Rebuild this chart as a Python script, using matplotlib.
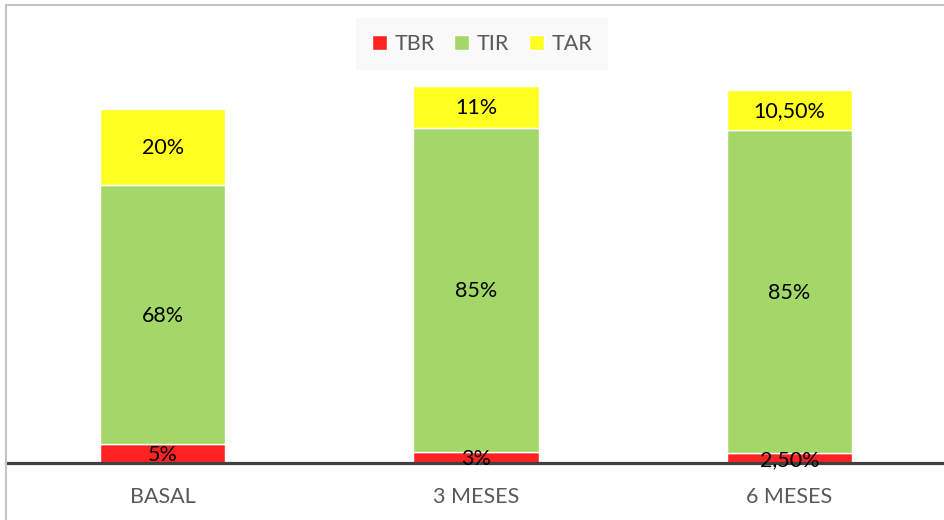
import numpy as np
import matplotlib.pyplot as plt
from matplotlib.patches import Rectangle

categories = ["BASAL", "3 MESES", "6 MESES"]
tbr = [5, 3, 2.5]
tir = [68, 85, 85]
tar = [20, 11, 10.5]

series = [("TBR", tbr, "#ff2222"), ("TIR", tir, "#a3d768"), ("TAR", tar, "#ffff22")]


def fmt(v):
    # integers as "5%", fractional values with comma decimals "2,50%"
    if float(v).is_integer():
        return f"{int(v)}%"
    return f"{v:.2f}%".replace(".", ",")


plt.rcParams["font.family"] = ["Lato", "DejaVu Sans"]

W, H = 944, 520
fig = plt.figure(figsize=(W / 100, H / 100), dpi=100)
ax = fig.add_axes([6 / W, 57 / H, 940 / W, 457 / H])

x = np.arange(len(categories))
bottom = np.zeros(len(categories))
for name, vals, color in series:
    bars = ax.bar(x, vals, width=0.4, bottom=bottom, color=color,
                  edgecolor="white", linewidth=1.0, label=name)
    ax.bar_label(bars, labels=[fmt(v) for v in vals], label_type="center",
                 fontsize=15.5, color="black", padding=-1)
    bottom += np.array(vals)

ax.set_xlim(-0.5, 2.5)
ax.set_ylim(0, 120)
ax.set_yticks([])
ax.set_xticks(x)
ax.set_xticklabels(categories, fontsize=15.5, color="#595959")
ax.tick_params(axis="x", length=0, pad=17)
for s in ["top", "right", "left"]:
    ax.spines[s].set_visible(False)
ax.spines["bottom"].set_color("#404040")
ax.spines["bottom"].set_linewidth(2.3)

leg = fig.legend(loc="center", bbox_to_anchor=(482 / W, 1 - 44 / H),
                 ncol=3, frameon=True, fontsize=15.5, handlelength=0.7,
                 handleheight=0.7, handletextpad=0.35, columnspacing=0.9,
                 borderpad=0.75, borderaxespad=0, fancybox=False)
leg.get_frame().set_facecolor("#f8f8f8")
leg.get_frame().set_edgecolor("none")
for t in leg.get_texts():
    t.set_color("#595959")

# outer chart border
fig.patches.append(Rectangle((5.5 / W, -0.1), 1.2, 1 - 5.5 / H + 0.1,
                             transform=fig.transFigure, fill=False,
                             edgecolor="#c4c4c4", linewidth=1.5))

fig.savefig("out.png", dpi=100)
